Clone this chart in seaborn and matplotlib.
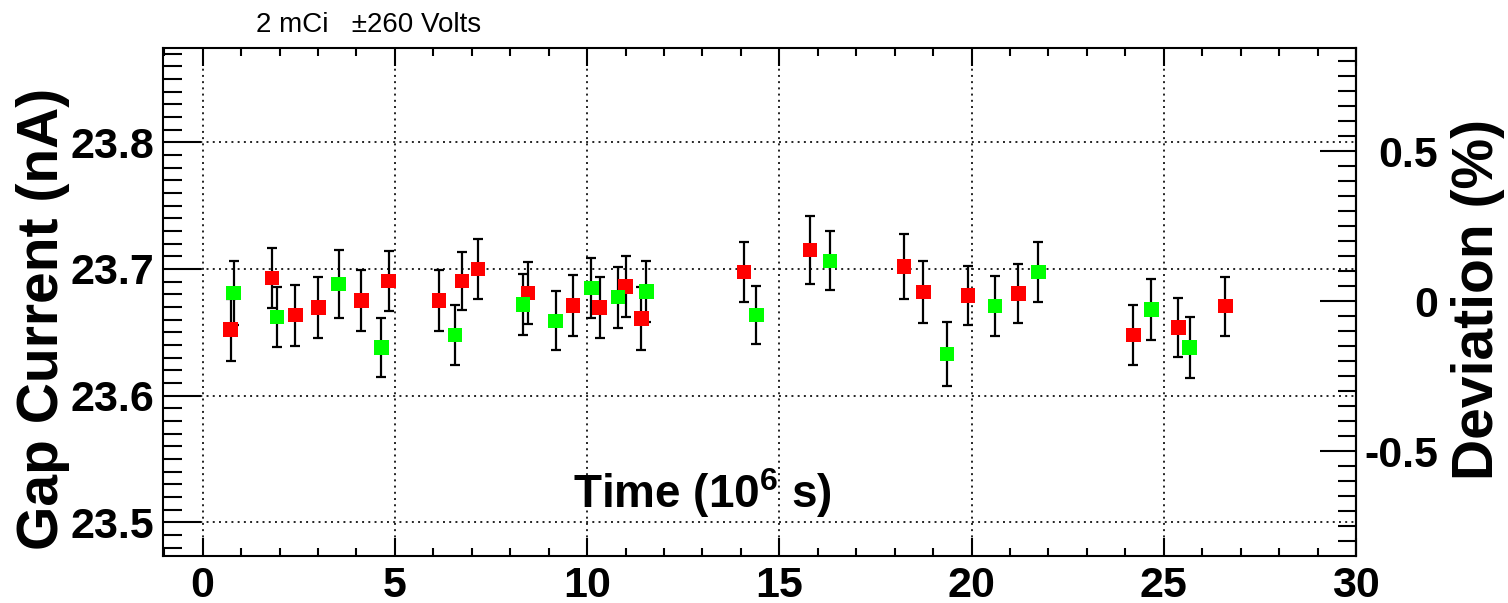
import numpy as np
import pandas as pd
import matplotlib
matplotlib.use("Agg")
import matplotlib.pyplot as plt
from matplotlib.ticker import MultipleLocator, FixedLocator
import seaborn as sns

# Gap current measurements: time in 10^6 s, current and its uncertainty in nA
pos_time = [0.73, 1.80, 2.41, 3.01, 4.13, 4.84, 6.15, 6.75, 7.16, 8.46, 9.63,
            10.33, 11.00, 11.41, 14.08, 15.80, 18.24, 18.75, 19.91, 21.22,
            24.21, 25.38, 26.60]
pos_current = [23.652, 23.693, 23.6635, 23.6695, 23.675, 23.6905, 23.675,
               23.6905, 23.700, 23.681, 23.671, 23.6695, 23.686, 23.661,
               23.6976, 23.715, 23.7018, 23.6818, 23.6792, 23.6808, 23.6479,
               23.654, 23.6706]
pos_err = [0.0245, 0.0235, 0.0242, 0.0240, 0.0242, 0.0233, 0.0242, 0.0231,
           0.0234, 0.0247, 0.0239, 0.0239, 0.0242, 0.0250, 0.0233, 0.0268,
           0.0254, 0.0242, 0.0235, 0.0234, 0.0239, 0.0233, 0.0233]

neg_time = [0.81, 1.94, 3.54, 4.65, 6.56, 8.33, 9.18, 10.11, 10.80, 11.54,
            14.40, 16.32, 19.36, 20.61, 21.74, 24.68, 25.67]
neg_current = [23.681, 23.662, 23.688, 23.638, 23.648, 23.672, 23.659,
               23.6848, 23.6777, 23.682, 23.6637, 23.7063, 23.6327, 23.6708,
               23.6976, 23.6682, 23.6382]
neg_err = [0.0254, 0.0234, 0.0268, 0.0234, 0.0239, 0.0242, 0.0233, 0.0239,
           0.0241, 0.0239, 0.0231, 0.0233, 0.0254, 0.0239, 0.0233, 0.0239,
           0.0241]

polarity_names = ["+260 V", "-260 V"]
polarity_colors = ["#ff0000", "#00ff00"]

x_ticks = [0, 5, 10, 15, 20, 25, 30]
y_ticks = [23.5, 23.6, 23.7, 23.8]
dev_ticks = [-0.5, 0, 0.5]

title_text = "2 mCi   \u00b1260 Volts"
x_label = r"Time (10$^{\mathbf{6}}$ s)"
y_label = "Gap Current (nA)"
dev_label = "Deviation (%)"

df = pd.concat([
    pd.DataFrame({"time": pos_time, "current": pos_current, "err": pos_err,
                  "polarity": polarity_names[0]}),
    pd.DataFrame({"time": neg_time, "current": neg_current, "err": neg_err,
                  "polarity": polarity_names[1]}),
], ignore_index=True)

# Deviation is expressed relative to the mean of all measurements
ref_current = df["current"].mean()

sns.set_style("white")
plt.rcParams["font.family"] = ["Liberation Sans", "DejaVu Sans"]
plt.rcParams["mathtext.fontset"] = "custom"
plt.rcParams["mathtext.rm"] = "Liberation Sans"
plt.rcParams["mathtext.bf"] = "Liberation Sans:bold"
plt.rcParams["axes.unicode_minus"] = False
for key in ["text.color", "axes.labelcolor", "xtick.color", "ytick.color",
            "xtick.labelcolor", "ytick.labelcolor"]:
    plt.rcParams[key] = "black"

fig = plt.figure(figsize=(15.08, 6.03), dpi=100)
ax = fig.add_axes([0.1081, 0.0779, 0.7911, 0.8425])

for name in polarity_names:
    sub = df[df["polarity"] == name]
    ax.errorbar(sub["time"], sub["current"], yerr=sub["err"], fmt="none",
                ecolor="black", elinewidth=1.6, capsize=3.3, capthick=1.6,
                zorder=3)

sns.scatterplot(data=df, x="time", y="current", hue="polarity",
                palette=dict(zip(polarity_names, polarity_colors)),
                marker="s", s=110, edgecolor="none", linewidth=0,
                legend=False, ax=ax, zorder=4)

ax.set_xlim(-1.03, 30)
ax.set_ylim(23.4734, 23.8744)

ax.xaxis.set_major_locator(FixedLocator(x_ticks))
ax.xaxis.set_minor_locator(MultipleLocator(1))
ax.yaxis.set_major_locator(FixedLocator(y_ticks))
ax.yaxis.set_minor_locator(MultipleLocator(0.01))
ax.set_xticklabels([str(v) for v in x_ticks])
ax.set_yticklabels([f"{v:.1f}" for v in y_ticks])

ax.grid(True, which="major", linestyle=(0, (1, 2.2)), color="#222222",
        linewidth=1.4)
ax.set_axisbelow(True)

for side in ["left", "right", "top", "bottom"]:
    ax.spines[side].set_visible(True)
    ax.spines[side].set_color("black")
    ax.spines[side].set_linewidth(1.5)

ax.tick_params(axis="x", which="both", direction="in", top=True, bottom=True,
               width=1.5, color="black", labelsize=31, pad=7)
ax.tick_params(axis="x", which="major", length=13)
ax.tick_params(axis="x", which="minor", length=6)
ax.tick_params(axis="y", which="both", direction="in", left=True, right=False,
               width=1.5, color="black", labelsize=31, pad=6)
ax.tick_params(axis="y", which="major", length=27)
ax.tick_params(axis="y", which="minor", length=14)
for lab in ax.get_xticklabels() + ax.get_yticklabels():
    lab.set_fontweight("bold")

sec = ax.secondary_yaxis(
    "right",
    functions=(lambda v: (v / ref_current - 1) * 100,
               lambda p: ref_current * (1 + p / 100)))
sec.yaxis.set_major_locator(FixedLocator(dev_ticks))
sec.yaxis.set_minor_locator(MultipleLocator(0.05))
sec.set_yticklabels(["-0.5", "0", "0.5"])
sec.tick_params(axis="y", which="both", direction="in", width=1.5,
                color="black", labelsize=31, pad=59)
sec.tick_params(axis="y", which="major", length=26)
sec.tick_params(axis="y", which="minor", length=13)
sec.spines["right"].set_linewidth(1.5)
for lab in sec.get_yticklabels():
    lab.set_fontweight("bold")
    lab.set_horizontalalignment("right")

ax.set_xlabel(x_label, fontsize=33, fontweight="bold")
ax.xaxis.set_label_coords(0.4522, 0.123)
ax.xaxis.label.set_verticalalignment("center")

ax.set_ylabel(y_label, fontsize=41, fontweight="bold")
ax.yaxis.set_label_coords(-0.1010, 0.467)
ax.yaxis.label.set_verticalalignment("center")

sec.set_ylabel(dev_label, fontsize=41, fontweight="bold", rotation=90)
sec.yaxis.set_label_coords(1.102, 0.506, transform=ax.transAxes)
sec.yaxis.label.set_verticalalignment("center")

fig.text(256 / 1508, 1 - 25 / 603, title_text, ha="left", va="center",
         fontsize=20)

fig.savefig("out.png", dpi=100)
